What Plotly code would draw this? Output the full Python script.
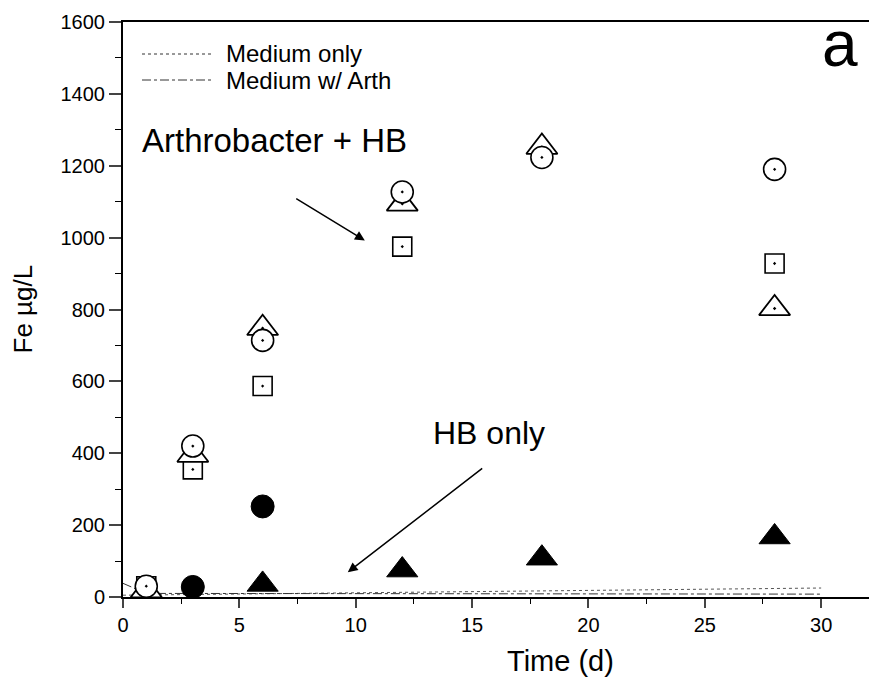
import plotly.graph_objects as go

# ---- data ----
t_circle_open = [1, 3, 6, 12, 18, 28]
fe_circle_open = [30, 420, 714, 1127, 1223, 1190]

t_tri_open = [1, 3, 6, 12, 18, 28]
fe_tri_open = [18, 395, 748, 1094, 1252, 803]

t_sq_open = [1, 3, 6, 12, 28]
fe_sq_open = [30, 355, 587, 975, 928]

t_circle_fill = [3, 6]
fe_circle_fill = [28, 252]

t_tri_fill = [6, 12, 18, 28]
fe_tri_fill = [35, 75, 108, 167]

t_medium = [0, 30]
fe_medium = [5, 25]

t_medium_arth = [0, 1, 30]
fe_medium_arth = [38, 10, 8]

x_ticks = [0, 5, 10, 15, 20, 25, 30]
y_ticks = [0, 200, 400, 600, 800, 1000, 1200, 1400, 1600]

FONT = "Liberation Sans, Arial, sans-serif"

# page geometry helpers (browser body has an 8px margin)
L, T, W, H = 123, 22, 754, 575


def px(xp):
    return (xp - L) / W


def py(yp):
    return (T + H - yp) / H


fig = go.Figure()

fig.add_trace(go.Scatter(x=t_medium, y=fe_medium, mode="lines",
                         line=dict(color="#555", width=1, dash="dot"),
                         name="Medium only", showlegend=False))
fig.add_trace(go.Scatter(x=t_medium_arth, y=fe_medium_arth, mode="lines",
                         line=dict(color="#333", width=1, dash="dashdot"),
                         name="Medium w/ Arth", showlegend=False))

fig.add_trace(go.Scatter(x=t_tri_fill, y=fe_tri_fill, mode="markers",
                         marker=dict(symbol="triangle-up", size=27, color="black",
                                     line=dict(color="black", width=1)),
                         showlegend=False))
fig.add_trace(go.Scatter(x=t_circle_fill, y=fe_circle_fill, mode="markers",
                         marker=dict(symbol="circle", size=23, color="black",
                                     line=dict(color="black", width=1)),
                         showlegend=False))

fig.add_trace(go.Scatter(x=t_sq_open, y=fe_sq_open, mode="markers",
                         marker=dict(symbol="square-dot", size=19, color="white",
                                     line=dict(color="black", width=1.6)),
                         showlegend=False))
fig.add_trace(go.Scatter(x=t_tri_open, y=fe_tri_open, mode="markers",
                         marker=dict(symbol="triangle-up-dot", size=27, color="white",
                                     line=dict(color="black", width=1.8)),
                         showlegend=False))
fig.add_trace(go.Scatter(x=t_circle_open, y=fe_circle_open, mode="markers",
                         marker=dict(symbol="circle-dot", size=22, color="white",
                                     line=dict(color="black", width=1.6)),
                         showlegend=False))

# legend drawn manually
leg_items = [("Medium only", "dot", 54), ("Medium w/ Arth", "dashdot", 80)]
for label, dash, yy in leg_items:
    fig.add_shape(type="line", xref="paper", yref="paper", x0=px(142), x1=px(213),
                  y0=py(yy), y1=py(yy), line=dict(color="#333", width=1, dash=dash))
    fig.add_annotation(xref="paper", yref="paper", x=px(224), y=py(yy), text=label,
                       showarrow=False, xanchor="left", yanchor="middle",
                       font=dict(family=FONT, size=24, color="black"))

# text annotations and arrows
fig.add_annotation(xref="paper", yref="paper", x=px(840), y=py(44), text="a",
                   showarrow=False, xanchor="center", yanchor="middle",
                   font=dict(family=FONT, size=64, color="black"))
fig.add_annotation(x=6.51, y=1270, text="Arthrobacter + HB", showarrow=False,
                   xanchor="center", font=dict(family=FONT, size=33, color="black"))
fig.add_annotation(x=15.73, y=457, text="HB only", showarrow=False,
                   xanchor="center", font=dict(family=FONT, size=32, color="black"))
fig.add_annotation(x=10.39, y=992, ax=7.38, ay=1111, axref="x", ayref="y",
                   text="", showarrow=True, arrowhead=2, arrowsize=1.3,
                   arrowwidth=1.5, arrowcolor="black")
fig.add_annotation(x=9.66, y=69, ax=15.5, ay=361, axref="x", ayref="y",
                   text="", showarrow=True, arrowhead=2, arrowsize=1.3,
                   arrowwidth=1.5, arrowcolor="black")

# axis titles
fig.add_annotation(xref="paper", yref="paper", x=px(560), y=py(661),
                   text="Time (d)", showarrow=False, xanchor="center", yanchor="middle",
                   font=dict(family=FONT, size=29, color="black"))
fig.add_annotation(xref="paper", yref="paper", x=px(22), y=0.5,
                   text="Fe µg/L", showarrow=False, textangle=-90,
                   xanchor="center", yanchor="middle",
                   font=dict(family=FONT, size=26, color="black"))

fig.update_layout(
    width=869, height=679,
    margin=dict(l=115, r=0, t=14, b=90),
    paper_bgcolor="white", plot_bgcolor="white",
    font=dict(family=FONT, size=20, color="black"),
    xaxis=dict(range=[0, 32.4], tickvals=x_ticks, ticks="outside", ticklen=9,
               tickwidth=1.5, showline=True, linecolor="black", linewidth=2,
               mirror=True, showgrid=False, zeroline=False,
               minor=dict(dtick=2.5, tick0=0, ticks="outside", ticklen=5,
                          tickwidth=1.2, tickcolor="black"),
               tickfont=dict(size=20)),
    yaxis=dict(range=[0, 1600], tickvals=y_ticks, ticks="outside", ticklen=12,
               tickwidth=1.5, showline=True, linecolor="black", linewidth=2,
               showgrid=False, zeroline=False,
               minor=dict(dtick=100, tick0=0, ticks="outside", ticklen=6,
                          tickwidth=1.2, tickcolor="black"),
               tickfont=dict(size=20)),
)

fig.write_html("out.html")
